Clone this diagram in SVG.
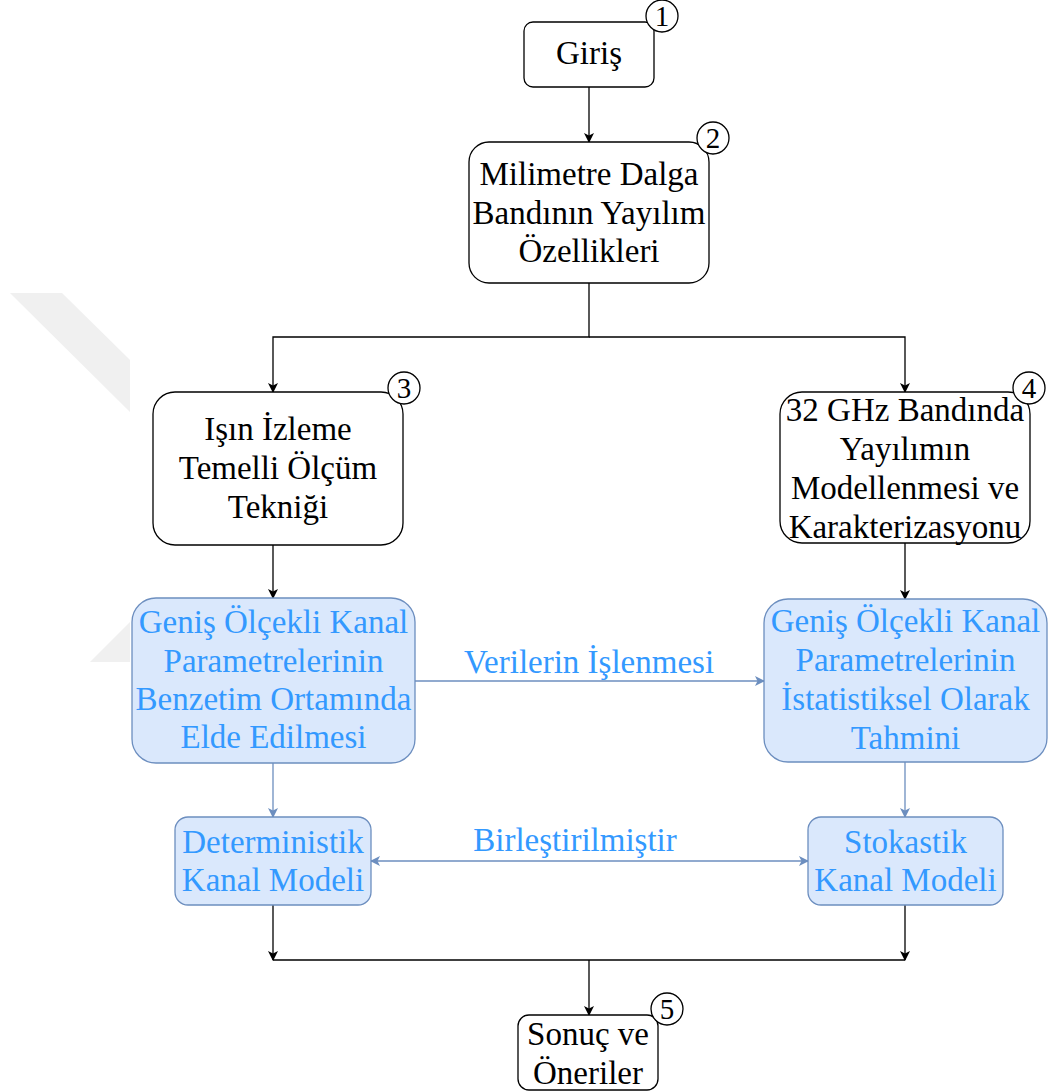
<svg xmlns="http://www.w3.org/2000/svg" width="1051" height="1092" viewBox="0 0 1051 1092">
<style>
.bk{fill:#ffffff;stroke:#000000;stroke-width:1.3}
.bl{fill:#dae8fc;stroke:#6c8ebf;stroke-width:1.3}
.t{font-family:"Liberation Serif","Times New Roman",serif;font-size:33px;text-anchor:middle;fill:#000000}
.tb{font-family:"Liberation Serif","Times New Roman",serif;font-size:33px;text-anchor:middle;fill:#3399ff}
.num{font-family:"Liberation Serif","Times New Roman",serif;font-size:29px;text-anchor:middle;fill:#000000}
.ck{fill:none;stroke:#000000;stroke-width:1.3}
.cb{fill:none;stroke:#6c8ebf;stroke-width:1.3}
.wm{fill:#f0f0f0}
</style>
<defs>
<marker id="ak" markerWidth="10" markerHeight="10" refX="9" refY="5" orient="auto" markerUnits="userSpaceOnUse">
<path d="M0,0 L10,5 L0,10 L2.5,5 z" fill="#000000"/>
</marker>
<marker id="ab" markerWidth="10" markerHeight="10" refX="9" refY="5" orient="auto" markerUnits="userSpaceOnUse">
<path d="M0,0 L10,5 L0,10 L2.5,5 z" fill="#6c8ebf"/>
</marker>
<marker id="abs" markerWidth="10" markerHeight="10" refX="1" refY="5" orient="auto" markerUnits="userSpaceOnUse">
<path d="M10,0 L0,5 L10,10 L7.5,5 z" fill="#6c8ebf"/>
</marker>
</defs>
<rect width="1051" height="1092" fill="#ffffff"/>
<g id="watermark">
<polygon class="wm" points="10,293 62,293 130,360 130,412"/>
<polygon class="wm" points="90,662 130,622 130,662"/>
</g>
<g id="connectors">
<line class="ck" x1="589" y1="87" x2="589" y2="142" marker-end="url(#ak)"/>
<polyline class="ck" points="589,283 589,337 273,337 273,392" marker-end="url(#ak)"/>
<polyline class="ck" points="589,337 905,337 905,392" marker-end="url(#ak)"/>
<line class="ck" x1="273" y1="545" x2="273" y2="598" marker-end="url(#ak)"/>
<line class="ck" x1="905" y1="543" x2="905" y2="599" marker-end="url(#ak)"/>
<line class="cb" x1="273" y1="763" x2="273" y2="817" marker-end="url(#ab)"/>
<line class="cb" x1="905" y1="762" x2="905" y2="817" marker-end="url(#ab)"/>
<line class="cb" x1="415" y1="681" x2="764" y2="681" marker-end="url(#ab)"/>
<line class="cb" x1="371" y1="861" x2="808" y2="861" marker-start="url(#abs)" marker-end="url(#ab)"/>
<line class="ck" x1="273" y1="905" x2="273" y2="960" marker-end="url(#ak)"/>
<line class="ck" x1="905" y1="905" x2="905" y2="960" marker-end="url(#ak)"/>
<line class="ck" x1="273" y1="960" x2="905" y2="960"/>
<line class="ck" x1="589" y1="960" x2="589" y2="1015" marker-end="url(#ak)"/>
<text class="tb" x="589" y="673">Verilerin İşlenmesi</text>
<text class="tb" x="575" y="851">Birleştirilmiştir</text>
</g>
<g id="n1">
<rect class="bk" x="524" y="22" width="130" height="65" rx="9"/>
<text class="t" x="589" y="64">Giriş</text>
<circle class="bk" cx="662" cy="16" r="16"/>
<text class="num" x="662" y="26">1</text>
</g>
<g id="n2">
<rect class="bk" x="469" y="142" width="240" height="141" rx="20"/>
<text class="t" x="589" y="185">Milimetre Dalga</text>
<text class="t" x="589" y="224">Bandının Yayılım</text>
<text class="t" x="589" y="262">Özellikleri</text>
<circle class="bk" cx="713" cy="138" r="16"/>
<text class="num" x="713" y="148">2</text>
</g>
<g id="n3">
<rect class="bk" x="153" y="392" width="250" height="153" rx="22"/>
<text class="t" x="278" y="440">Işın İzleme</text>
<text class="t" x="278" y="479">Temelli Ölçüm</text>
<text class="t" x="278" y="518">Tekniği</text>
<circle class="bk" cx="404" cy="388" r="16"/>
<text class="num" x="404" y="398">3</text>
</g>
<g id="n4">
<rect class="bk" x="780" y="392" width="250" height="151" rx="22"/>
<text class="t" x="905" y="421">32 GHz Bandında</text>
<text class="t" x="905" y="460">Yayılımın</text>
<text class="t" x="905" y="499">Modellenmesi ve</text>
<text class="t" x="905" y="538">Karakterizasyonu</text>
<circle class="bk" cx="1029" cy="388" r="16"/>
<text class="num" x="1029" y="398">4</text>
</g>
<g id="n6">
<rect class="bl" x="132" y="598" width="283" height="165" rx="24"/>
<text class="tb" x="273.5" y="633">Geniş Ölçekli Kanal</text>
<text class="tb" x="273.5" y="672">Parametrelerinin</text>
<text class="tb" x="273.5" y="710">Benzetim Ortamında</text>
<text class="tb" x="273.5" y="748">Elde Edilmesi</text>
</g>
<g id="n7">
<rect class="bl" x="764" y="599" width="283" height="163" rx="24"/>
<text class="tb" x="905.5" y="632">Geniş Ölçekli Kanal</text>
<text class="tb" x="905.5" y="671">Parametrelerinin</text>
<text class="tb" x="905.5" y="710">İstatistiksel Olarak</text>
<text class="tb" x="905.5" y="749">Tahmini</text>
</g>
<g id="n8">
<rect class="bl" x="175" y="817" width="196" height="88" rx="13"/>
<text class="tb" x="273" y="853">Deterministik</text>
<text class="tb" x="273" y="891">Kanal Modeli</text>
</g>
<g id="n9">
<rect class="bl" x="808" y="817" width="195" height="88" rx="13"/>
<text class="tb" x="905.5" y="853">Stokastik</text>
<text class="tb" x="905.5" y="891">Kanal Modeli</text>
</g>
<g id="n5">
<rect class="bk" x="518" y="1015" width="140" height="75" rx="11"/>
<text class="t" x="588" y="1045">Sonuç ve</text>
<text class="t" x="588" y="1084">Öneriler</text>
<circle class="bk" cx="667" cy="1009" r="16"/>
<text class="num" x="667" y="1019">5</text>
</g>
</svg>
